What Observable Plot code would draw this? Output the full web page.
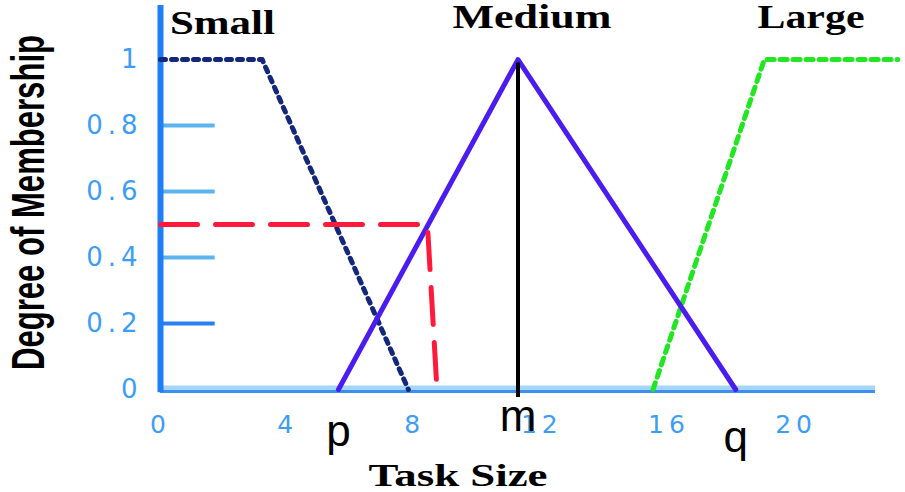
<!DOCTYPE html>
<html><head><meta charset="utf-8">
<script src="https://cdn.jsdelivr.net/npm/d3@7"></script>
<script src="https://cdn.jsdelivr.net/npm/@observablehq/plot@0.6"></script>
<style>
html,body{margin:0;padding:0;background:#fff;}
#chart g[aria-label$="tick label"] text{letter-spacing:5px;}
</style></head><body><div id="chart"></div>
<script>
// fuzzy membership sets (Task Size vs Degree of Membership)
const setNames = ["Small", "Medium", "Large"];
const smallX = [0, 3.2, 7.8];
const smallY = [1, 1, 0];
const mediumX = [5.6, 11.25, 18.1];
const mediumY = [0, 1, 0];
const largeX = [15.5, 19, 23.2];
const largeY = [0, 1, 1];
const cutX = [0, 8.4, 8.7];
const cutY = [0.5, 0.5, 0];
const pointNames = ["p", "m", "q"];
const xTicks = [0, 4, 8, 12, 16, 20];
const yTicks = [0, 0.2, 0.4, 0.6, 0.8, 1];
const xTitle = "Task Size";
const yTitle = "Degree of Membership";

const pts = (xs, ys) => xs.map((x, i) => ({x, y: ys[i]}));
const inner = yTicks.filter(t => t > 0 && t < 1);

const chart = Plot.plot({
  width: 905, height: 492,
  marginLeft: 160, marginRight: 30, marginTop: 5, marginBottom: 103,
  x: {domain: [0, 22.5]},
  y: {domain: [0, 1.164]},
  marks: [
    Plot.ruleY([0], {x1: 0, x2: 22.5, stroke: "#a6d6f7", strokeWidth: 6, dy: -1}),
    Plot.ruleY([0], {x1: 0, x2: 22.5, stroke: "#3a8ff0", strokeWidth: 3, dy: 2}),
    Plot.ruleY(inner.filter(t => t !== 0.2), {x1: 0, x2: 1.72, stroke: "#5cb3ee", strokeWidth: 4}),
    Plot.ruleY(inner.filter(t => t === 0.2), {x1: 0, x2: 1.72, stroke: "#2a80f0", strokeWidth: 4}),
    Plot.ruleX([0], {y1: -0.01, y2: 1.164, stroke: "#1f7ff5", strokeWidth: 6}),
    Plot.axisY(yTicks, {tickSize: 0, tickPadding: 18, tickFormat: d => `${d}`, fontSize: 26, fontFamily: "DejaVu Sans", color: "#3d9df5", label: null}),
    Plot.axisX(xTicks, {tickSize: 0, tickPadding: 26, tickFormat: d => `${d}`, fontSize: 25, fontFamily: "DejaVu Sans", color: "#3d9df5", label: null}),
    Plot.line(pts(smallX, smallY), {x: "x", y: "y", stroke: "#13287a", strokeWidth: 5, strokeDasharray: "5,6"}),
    Plot.line(pts(largeX, largeY), {x: "x", y: "y", stroke: "#22e622", strokeWidth: 5, strokeDasharray: "7,6"}),
    Plot.line(pts(mediumX, mediumY), {x: "x", y: "y", stroke: "#4a1cf0", strokeWidth: 5}),
    Plot.line(pts(cutX, cutY), {x: "x", y: "y", stroke: "#ff1a3c", strokeWidth: 5, strokeDasharray: "37,18"}),
    Plot.ruleX([mediumX[1]], {y1: -0.024, y2: 0.99, stroke: "black", strokeWidth: 4}),
    Plot.text(setNames, {x: [1.95, 11.69, 20.47], y: [1.079, 1.097, 1.097], text: d => d, lineAnchor: "bottom",
      fontFamily: "Liberation Serif", fontWeight: "bold", fontSize: 33, fill: "black"}),
    Plot.text(pointNames, {x: mediumX, y: [-0.17, -0.127, -0.19], text: d => d, lineAnchor: "bottom",
      fontFamily: "Liberation Sans", fontSize: 44, fill: "black"}),
    Plot.text([yTitle], {frameAnchor: "left", textAnchor: "middle", rotate: -90, dx: -117, dy: 5, text: d => d, lineAnchor: "bottom",
      fontFamily: "Liberation Sans", fontWeight: "bold", fontSize: 46, fill: "black"}),
    Plot.text([xTitle], {frameAnchor: "bottom", textAnchor: "middle", dx: -60, dy: 96, text: d => d, lineAnchor: "bottom",
      fontFamily: "Liberation Serif", fontWeight: "bold", fontSize: 32, fill: "black"})
  ]
});
document.getElementById("chart").appendChild(chart);

// stretch the titles to the widths they take in the reference
const widths = new Map([["Small", 105], ["Medium", 159], ["Large", 107], [yTitle, 335], [xTitle, 179]]);
d3.select(chart).selectAll("text").each(function() {
  const w = widths.get(this.textContent);
  if (w) d3.select(this).attr("textLength", w).attr("lengthAdjust", "spacingAndGlyphs");
});
</script></body></html>
